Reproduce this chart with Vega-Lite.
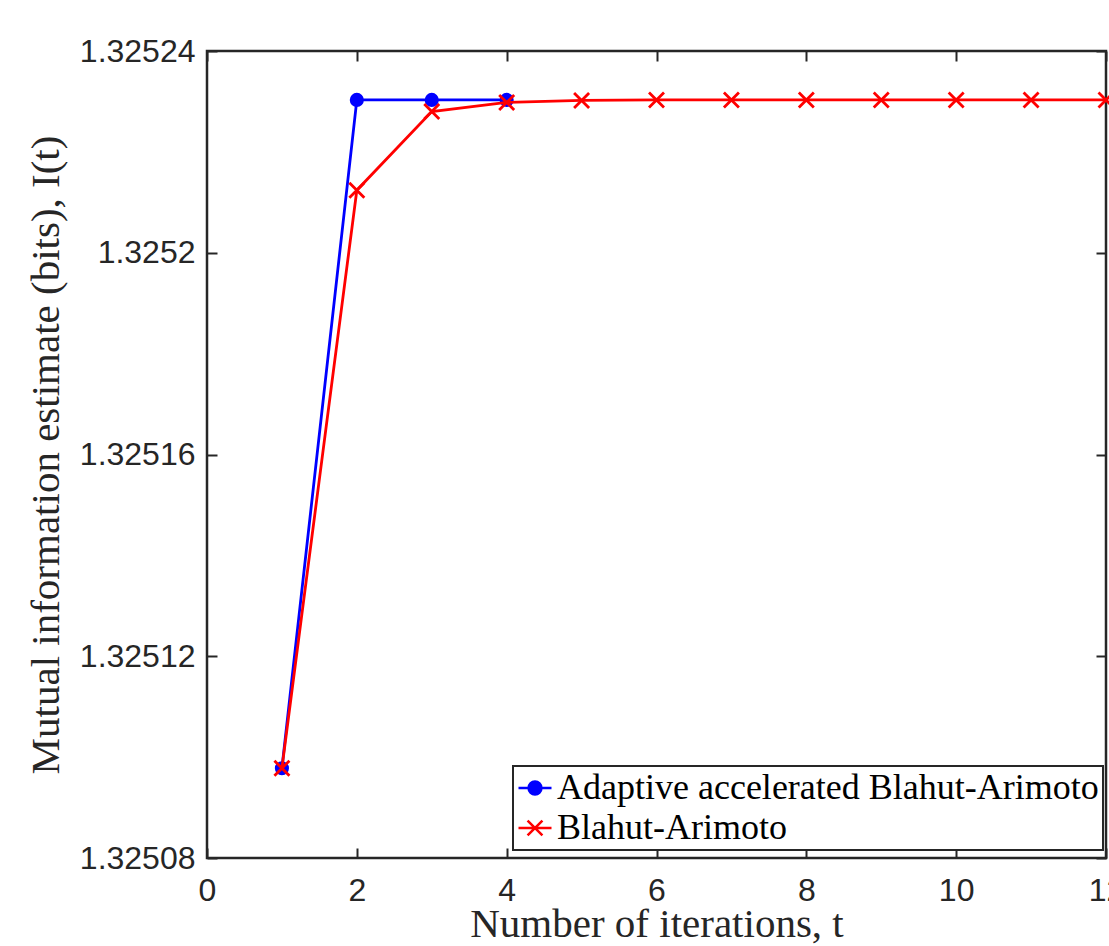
{
  "$schema": "https://vega.github.io/schema/vega-lite/v6.json",
  "width": 899,
  "height": 807,
  "autosize": {"type": "none"},
  "padding": {"left": 207, "top": 51, "right": 3, "bottom": 88},
  "background": "white",
  "config": {
    "view": {"stroke": "#262626", "strokeWidth": 2.5},
    "axis": {
      "domain": false, "labelFlush": false,
      "tickColor": "#262626", "tickWidth": 2, "tickSize": 10, "offset": -10,
      "labelFont": "Liberation Sans", "labelFontSize": 32, "labelColor": "#262626",
      "grid": false,
      "titleFont": "Liberation Serif", "titleFontSize": 41, "titleColor": "#262626", "titleFontWeight": "normal"
    },
    "legend": {
      "orient": "none", "legendX": 306, "legendY": 715,
      "strokeColor": "#262626", "strokeWidth": 2, "fillColor": "white",
      "padding": 4, "cornerRadius": 0,
      "labelFont": "Liberation Serif", "labelFontSize": 36, "labelColor": "black",
      "labelLimit": 1000, "symbolOpacity": 1,
      "symbolSize": 1089, "symbolStrokeWidth": 2.5, "rowPadding": 4, "labelOffset": 4
    }
  },
  "data": {"values": [
    {"series": "Adaptive accelerated Blahut-Arimoto", "t": 1, "I": 1.3250978},
    {"series": "Adaptive accelerated Blahut-Arimoto", "t": 2, "I": 1.3252303},
    {"series": "Adaptive accelerated Blahut-Arimoto", "t": 3, "I": 1.3252303},
    {"series": "Adaptive accelerated Blahut-Arimoto", "t": 4, "I": 1.3252303},
    {"series": "Blahut-Arimoto", "t": 1, "I": 1.3250978},
    {"series": "Blahut-Arimoto", "t": 2, "I": 1.3252124},
    {"series": "Blahut-Arimoto", "t": 3, "I": 1.325228},
    {"series": "Blahut-Arimoto", "t": 4, "I": 1.3252298},
    {"series": "Blahut-Arimoto", "t": 5, "I": 1.3252302},
    {"series": "Blahut-Arimoto", "t": 6, "I": 1.3252303},
    {"series": "Blahut-Arimoto", "t": 7, "I": 1.3252303},
    {"series": "Blahut-Arimoto", "t": 8, "I": 1.3252303},
    {"series": "Blahut-Arimoto", "t": 9, "I": 1.3252303},
    {"series": "Blahut-Arimoto", "t": 10, "I": 1.3252303},
    {"series": "Blahut-Arimoto", "t": 11, "I": 1.3252303},
    {"series": "Blahut-Arimoto", "t": 12, "I": 1.3252303}
  ]},
  "layer": [
    {
      "transform": [{"filter": "datum.series == 'Adaptive accelerated Blahut-Arimoto'"}],
      "mark": {"type": "line", "strokeWidth": 2.8, "color": "#0000ff"},
      "encoding": {
        "x": {"field": "t", "type": "quantitative", "scale": {"domain": [0, 12], "nice": false},
              "axis": {"orient": "bottom", "values": [0, 2, 4, 6, 8, 10, 12], "title": "Number of iterations, t", "labelPadding": 17, "titlePadding": -2}},
        "y": {"field": "I", "type": "quantitative", "scale": {"domain": [1.32508, 1.32524], "nice": false, "zero": false},
              "axis": {"orient": "left", "values": [1.32508, 1.32512, 1.32516, 1.3252, 1.32524], "format": ".5~f", "title": "Mutual information estimate (bits), I(t)", "labelPadding": 12, "titlePadding": 12}}
      }
    },
    {
      "transform": [{"filter": "datum.series == 'Adaptive accelerated Blahut-Arimoto'"}],
      "mark": {"type": "point", "filled": true, "shape": "circle", "size": 200, "color": "#0000ff", "opacity": 1},
      "encoding": {
        "x": {"field": "t", "type": "quantitative", "axis": null},
        "y": {"field": "I", "type": "quantitative", "axis": null}
      }
    },
    {
      "transform": [{"filter": "datum.series == 'Blahut-Arimoto'"}],
      "mark": {"type": "line", "strokeWidth": 2.8, "color": "#ff0000"},
      "encoding": {
        "x": {"field": "t", "type": "quantitative",
              "axis": {"orient": "top", "values": [0, 2, 4, 6, 8, 10, 12], "labels": false, "title": null}},
        "y": {"field": "I", "type": "quantitative",
              "axis": {"orient": "right", "values": [1.32508, 1.32512, 1.32516, 1.3252, 1.32524], "labels": false, "title": null}}
      }
    },
    {
      "transform": [{"filter": "datum.series == 'Blahut-Arimoto'"}],
      "mark": {"type": "point", "filled": false, "shape": "M-1,-1L1,1M-1,1L1,-1", "size": 225, "stroke": "#ff0000", "strokeWidth": 2.8, "opacity": 1},
      "encoding": {
        "x": {"field": "t", "type": "quantitative", "axis": null},
        "y": {"field": "I", "type": "quantitative", "axis": null}
      }
    },
    {
      "transform": [{"filter": "false"}],
      "mark": {"type": "point", "filled": true, "opacity": 1, "strokeWidth": 2.5},
      "encoding": {
        "x": {"field": "t", "type": "quantitative", "axis": null},
        "y": {"field": "I", "type": "quantitative", "axis": null},
        "color": {"field": "series", "type": "nominal",
                  "scale": {"domain": ["Adaptive accelerated Blahut-Arimoto", "Blahut-Arimoto"], "range": ["#0000ff", "#ff0000"]},
                  "legend": {"title": null}},
        "stroke": {"field": "series", "type": "nominal",
                  "scale": {"domain": ["Adaptive accelerated Blahut-Arimoto", "Blahut-Arimoto"], "range": ["#0000ff", "#ff0000"]},
                  "legend": {"title": null}},
        "shape": {"field": "series", "type": "nominal",
                  "scale": {"domain": ["Adaptive accelerated Blahut-Arimoto", "Blahut-Arimoto"],
                            "range": ["M-1,0L1,0M-0.39,0A0.39,0.39,0,1,0,0.39,0A0.39,0.39,0,1,0,-0.39,0Z", "M-1,0L1,0M-0.45,-0.45L0.45,0.45M-0.45,0.45L0.45,-0.45"]},
                  "legend": {"title": null}}
      }
    }
  ],
  "resolve": {"axis": {"x": "independent", "y": "independent"}}
}
